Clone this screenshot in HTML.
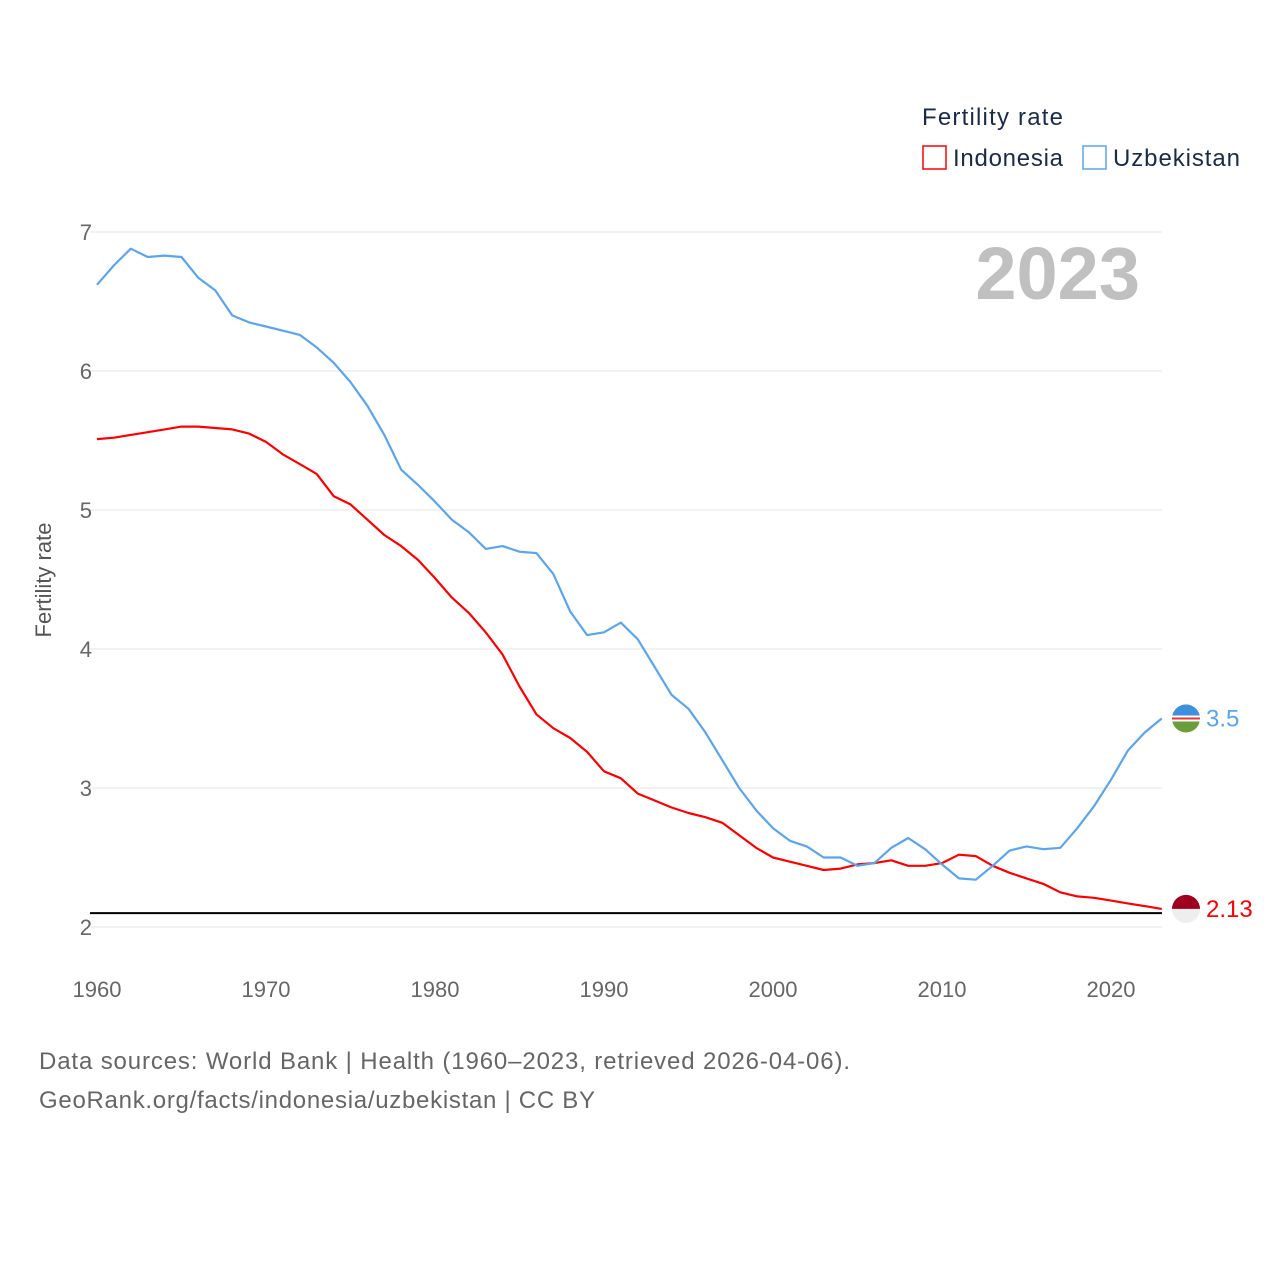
<!DOCTYPE html>
<html><head><meta charset="utf-8"><style>
body{margin:0;background:#fff;font-family:"Liberation Sans",sans-serif}
svg text{font-family:"Liberation Sans",sans-serif}
</style></head><body>
<svg id="chart" width="1280" height="1280" xmlns="http://www.w3.org/2000/svg">
<g id="grid"></g>
<g id="lines"></g>
<text transform="translate(51,580) rotate(-90)" text-anchor="middle" font-size="22" fill="#555">Fertility rate</text>
<text x="1140" y="299" text-anchor="end" font-size="74" font-weight="bold" fill="#c0c0c0">2023</text>
<text x="922" y="125" font-size="24" fill="#1a2a4a" textLength="141">Fertility rate</text>
<rect x="923" y="146" width="23" height="23" fill="#fff" stroke="#f00" stroke-width="1.5"/>
<text x="953" y="166" font-size="24" fill="#1a2a4a" textLength="110">Indonesia</text>
<rect x="1083" y="146" width="23" height="23" fill="#fff" stroke="#5aa5ee" stroke-width="1.5"/>
<text x="1113" y="166" font-size="24" fill="#1a2a4a" textLength="127">Uzbekistan</text>
<text x="39" y="1069" font-size="24" fill="#666" textLength="811">Data sources: World Bank | Health (1960–2023, retrieved 2026-04-06).</text>
<text x="39" y="1108" font-size="24" fill="#666" textLength="556">GeoRank.org/facts/indonesia/uzbekistan | CC BY</text>
</svg>
<script>
const years=[];for(let y=1960;y<=2023;y++)years.push(y);
const uzbekistan=[6.62,6.76,6.88,6.82,6.83,6.82,6.67,6.58,6.40,6.35,6.32,6.29,6.26,6.17,6.06,5.92,5.75,5.54,5.29,5.18,5.06,4.93,4.84,4.72,4.74,4.70,4.69,4.54,4.27,4.10,4.12,4.19,4.07,3.87,3.67,3.57,3.40,3.20,3.00,2.84,2.71,2.62,2.58,2.50,2.50,2.44,2.46,2.57,2.64,2.56,2.45,2.35,2.34,2.44,2.55,2.58,2.56,2.57,2.71,2.87,3.06,3.27,3.40,3.50];
const indonesia=[5.51,5.52,5.54,5.56,5.58,5.60,5.60,5.59,5.58,5.55,5.49,5.40,5.33,5.26,5.10,5.04,4.93,4.82,4.74,4.64,4.51,4.37,4.26,4.12,3.96,3.73,3.53,3.43,3.36,3.26,3.12,3.07,2.96,2.91,2.86,2.82,2.79,2.75,2.66,2.57,2.50,2.47,2.44,2.41,2.42,2.45,2.46,2.48,2.44,2.44,2.46,2.52,2.51,2.44,2.39,2.35,2.31,2.25,2.22,2.21,2.19,2.17,2.15,2.13];
const yTicks=[2,3,4,5,6,7];
const xTicks=[1960,1970,1980,1990,2000,2010,2020];
const replacement=2.1;
const NS="http://www.w3.org/2000/svg";
const xs=y=>97+(y-1960)*(1111-97)/60;
const ys=v=>927-(v-2)*139;
function mk(tag,attrs,parent){const e=document.createElementNS(NS,tag);for(const k in attrs)e.setAttribute(k,attrs[k]);parent.appendChild(e);return e;}
const grid=document.getElementById('grid'),lines=document.getElementById('lines');
yTicks.forEach(t=>{
 const l=mk('line',{x1:90,x2:1162,y1:ys(t),y2:ys(t),stroke:'#e6e6e6','stroke-width':1},grid);
 
 
 const tx=mk('text',{x:92,y:ys(t)+8,'text-anchor':'end','font-size':22,fill:'#666'},grid);tx.textContent=t;
 
 
});
xTicks.forEach(t=>{
 const tx=mk('text',{x:xs(t),y:997,'text-anchor':'middle','font-size':22,fill:'#666'},grid);tx.textContent=t;
 
 
});
const rl=mk('line',{x1:90,x2:1162,y1:ys(replacement),y2:ys(replacement),stroke:'#000','stroke-width':2},lines);


function series(arr,color,name){
 const p=mk('path',{d:arr.map((v,i)=>(i?'L':'M')+xs(years[i]).toFixed(1)+','+ys(v).toFixed(1)).join(''),fill:'none',stroke:color,'stroke-width':2.2,'stroke-linejoin':'round'},lines);
 
 
}
series(indonesia,'#f00','indonesia');
series(uzbekistan,'#5aa5ee','uzbekistan');
const lu=uzbekistan[uzbekistan.length-1],li=indonesia[indonesia.length-1];
const fu=mk('g',{},lines);


mk('circle',{cx:1186,cy:ys(lu),r:14,fill:'#6a9e3a'},fu);
mk('path',{d:`M1172,${ys(lu)} A14,14 0 0 1 1200,${ys(lu)} Z`,fill:'#3d8fe0'},fu);
mk('rect',{x:1172,y:ys(lu)-3,width:28,height:6,fill:'#fff'},fu);
mk('rect',{x:1172,y:ys(lu)-1,width:28,height:2,fill:'#e33'},fu);
const tu=mk('text',{x:1206,y:ys(lu)+8,'font-size':24,fill:'#5aa5ee'},lines);tu.textContent=lu;


const fi=mk('g',{},lines);


mk('circle',{cx:1186,cy:ys(li),r:14,fill:'#eee'},fi);
mk('path',{d:`M1172,${ys(li)} A14,14 0 0 1 1200,${ys(li)} Z`,fill:'#a00020'},fi);
const ti=mk('text',{x:1206,y:ys(li)+8,'font-size':24,fill:'#f00'},lines);ti.textContent=li.toFixed(2);


</script>
</body></html>
